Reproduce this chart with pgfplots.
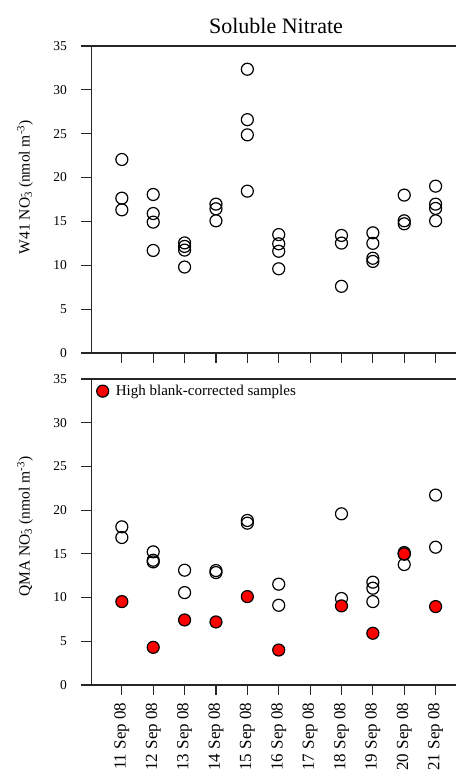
\documentclass[border=0pt]{standalone}
\usepackage{pgfplots}
\pgfplotsset{compat=1.18}
\usepackage{fontspec}
\setmainfont{Liberation Serif}

\pgfplotstableread{
x y
0 22.06
0 17.65
0 16.32
1 18.07
1 15.90
1 14.92
1 11.69
2 12.55
2 12.15
2 11.73
2 9.80
3 16.97
3 16.44
3 15.07
4 32.35
4 26.60
4 24.87
4 18.45
5 13.50
5 12.45
5 11.60
5 9.60
7 13.40
7 12.53
7 7.60
8 13.70
8 12.50
8 10.80
8 10.44
9 18.00
9 15.07
9 14.73
10 19.02
10 16.97
10 16.48
10 15.07
}\wfourone

\pgfplotstableread{
x y
0 18.09
0 16.87
1 15.23
1 14.27
1 14.08
2 13.13
2 10.57
3 13.09
3 12.86
4 18.82
4 18.51
5 11.53
5 9.12
7 19.58
7 9.89
8 11.76
8 11.07
8 9.54
9 15.15
9 14.96
9 13.78
10 21.72
10 15.76
}\qmaopen

\pgfplotstableread{
x y
0 9.54
1 4.31
2 7.44
3 7.21
4 10.11
5 4.00
7 9.05
8 5.92
9 15.00
10 8.97
}\qmared

\begin{document}
\begin{tikzpicture}
\pgfplotsset{
 panel/.style={
  scale only axis, width=364.5pt,
  xmin=-0.967, xmax=10.65, ymin=0, ymax=35,
  axis x line=box, axis y line=left,
  axis line style={-, line width=1.2pt, black!85},
  xtick={0,...,10}, ytick={0,5,...,35},
  xtick pos=lower, ytick pos=left,
  tick align=outside, major tick length=10pt,
  every tick/.style={black!85, line width=1.2pt},
  /pgf/number format/assume math mode=true,
  yticklabel style={font=\fontsize{13.5}{13.5}\selectfont},
  yticklabel shift=11pt,
  ylabel style={font=\fontsize{15.5}{15.5}\selectfont, rotate=0},
  clip=false,
 },
 opencirc/.style={only marks, mark=o, mark size=6pt, mark options={line width=1.2pt, draw=black}},
 redcirc/.style={only marks, mark=*, mark size=6pt, mark options={line width=1.2pt, draw=black, fill=red}},
}

\begin{axis}[panel, at={(91.5pt,423pt)}, anchor=south west, height=307pt,
  xticklabels=\empty,
  ylabel={W41 NO\rlap{\textsuperscript{-}}\textsubscript{3} (nmol m\textsuperscript{-3})},
  ylabel style={at={(rel axis cs:-0.182,0.54)}, anchor=center},
]
\addplot[opencirc] table[x=x,y=y] {\wfourone};
\end{axis}

\begin{axis}[panel, at={(91.5pt,91pt)}, anchor=south west, height=306pt,
  xticklabels={11 Sep 08,12 Sep 08,13 Sep 08,14 Sep 08,15 Sep 08,16 Sep 08,17 Sep 08,18 Sep 08,19 Sep 08,20 Sep 08,21 Sep 08},
  xticklabel style={rotate=90, anchor=east, font=\fontsize{17}{17}\selectfont},
  xticklabel shift=4pt,
  ylabel={QMA NO\rlap{\textsuperscript{-}}\textsubscript{3} (nmol m\textsuperscript{-3})},
  ylabel style={at={(rel axis cs:-0.182,0.518)}, anchor=center},
  legend style={at={(rel axis cs:0,1)}, anchor=north west, draw=none, fill=none,
    font=\fontsize{15}{15}\selectfont, xshift=2pt, yshift=-2pt},
  legend cell align=left,
  legend image code/.code={\draw[#1] plot coordinates {(0pt,0pt)}; \path (11pt,0pt);},
]
\addplot[opencirc, forget plot] table[x=x,y=y] {\qmaopen};
\addplot[redcirc] table[x=x,y=y] {\qmared};
\addlegendentry{High blank-corrected samples}
\end{axis}

\node[font=\fontsize{22}{22}\selectfont, anchor=base] at (276pt,742pt) {Soluble Nitrate};

\pgfresetboundingbox
\path[use as bounding box] (0,0) rectangle (456pt,776pt);
\end{tikzpicture}
\end{document}
